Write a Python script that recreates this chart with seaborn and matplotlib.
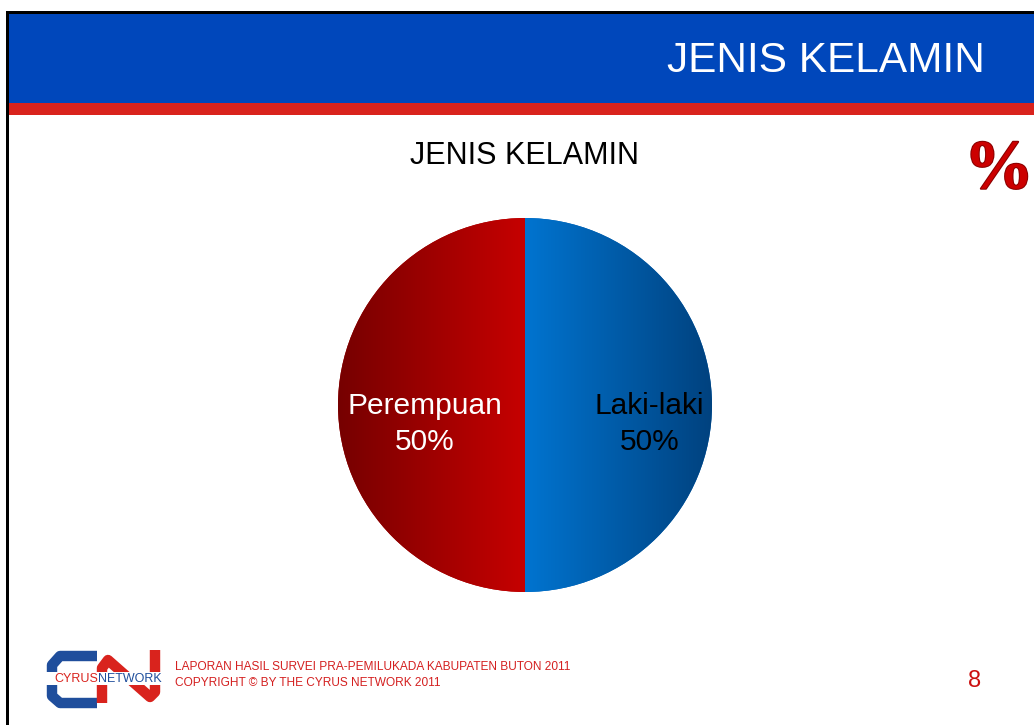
import numpy as np
import matplotlib
matplotlib.use("Agg")
import matplotlib.pyplot as plt
import matplotlib.transforms as mtransforms
from matplotlib.colors import LinearSegmentedColormap
from matplotlib.patches import Rectangle
import matplotlib.patheffects as pe
import seaborn as sns

# data
categories = ["Laki-laki", "Perempuan"]
shares = [50, 50]
slide_title = "JENIS KELAMIN"
chart_title = "JENIS KELAMIN"
footer_lines = ["LAPORAN HASIL SURVEI PRA-PEMILUKADA KABUPATEN BUTON 2011",
                "COPYRIGHT \u00a9 BY THE CYRUS NETWORK 2011"]
page_no = "8"

sns.set_theme(style="white")
plt.rcParams["font.family"] = ["Liberation Sans", "DejaVu Sans"]

W, H = 1034, 725
fig = plt.figure(figsize=(W / 100, H / 100), dpi=100)
fig.patch.set_facecolor("white")

# decoration layer in pixel coords (y down)
bg = fig.add_axes([0, 0, 1, 1])
bg.set_xlim(0, W)
bg.set_ylim(H, 0)
bg.axis("off")

bg.add_patch(Rectangle((6, 11), W, 3, color="black", lw=0))
bg.add_patch(Rectangle((6, 11), 2.5, H, color="black", lw=0))
bg.add_patch(Rectangle((8.5, 14), W, 89, color="#0047bb", lw=0))
bg.add_patch(Rectangle((8.5, 103), W, 12, color="#d9231d", lw=0))

bg.text(985, 61, slide_title, color="white", fontsize=30.5,
        ha="right", va="center")
bg.text(525, 156, chart_title, color="black", fontsize=22,
        ha="center", va="center")

bg.text(999, 171, "%", color="#cc0000", fontsize=50, family=["Liberation Serif"],
        fontweight="bold", ha="center", va="center",
        path_effects=[pe.withStroke(linewidth=1.5, foreground="#8a0000")])

# footer
bg.text(175, 667, footer_lines[0], color="#d42020", fontsize=8.6,
        ha="left", va="center")
bg.text(175, 683, footer_lines[1], color="#d42020", fontsize=8.6,
        ha="left", va="center")
bg.text(975, 681, page_no, color="#cc1111", fontsize=17,
        ha="center", va="center")

# logo
bg.plot([97, 60, 52, 52, 60, 97], [656, 656, 665, 696, 703, 703],
        color="#1f4e9c", lw=7.5, solid_joinstyle="round", solid_capstyle="butt")
bg.plot([102, 102, 108, 150, 155, 155], [703, 668, 660, 697, 692, 650],
        color="#d9231d", lw=7.5, solid_joinstyle="round", solid_capstyle="butt")
bg.add_patch(Rectangle((46, 672), 118, 13, color="white", lw=0, zorder=3))
bg.text(98, 679, "CYRUS", color="#d9231d", fontsize=9, ha="right", va="center", zorder=4)
bg.text(98, 679, "NETWORK", color="#1f4e9c", fontsize=9, ha="left", va="center", zorder=4)

# pie
cx, cy, r = 525, 405, 187
ax = fig.add_axes([(cx - r) / W, (H - cy - r) / H, 2 * r / W, 2 * r / H])
wedges, texts = ax.pie(shares, labels=[f"{c}\n{s}%" for c, s in zip(categories, shares)],
                       startangle=90, counterclock=False, labeldistance=0.6,
                       colors=["#0062b8", "#a80000"],
                       wedgeprops=dict(linewidth=0),
                       textprops=dict(fontsize=21.5, linespacing=1.35))
ax.set_xlim(-1, 1)
ax.set_ylim(-1, 1)
ax.set_aspect("equal")

cmap_blue = LinearSegmentedColormap.from_list("b", ["#0074d0", "#00427f"])
cmap_red = LinearSegmentedColormap.from_list("r", ["#760000", "#c60000"])
grad = np.linspace(0, 1, 256).reshape(1, -1)
for w, cm, ext in [(wedges[0], cmap_blue, (0, 1, -1, 1)), (wedges[1], cmap_red, (-1, 0, -1, 1))]:
    im = ax.imshow(grad, cmap=cm, extent=ext, aspect="auto", zorder=w.get_zorder() + 0.1)
    im.set_clip_path(w)

for t, col in zip(texts, ["black", "white"]):
    t.set_color(col)
    t.set_ha("center")
    t.set_multialignment("center")
    t.set_zorder(5)
    t.set_transform(t.get_transform() + mtransforms.ScaledTranslation(12 / 100, -19 / 100, fig.dpi_scale_trans))

fig.savefig("out.png", dpi=100)
